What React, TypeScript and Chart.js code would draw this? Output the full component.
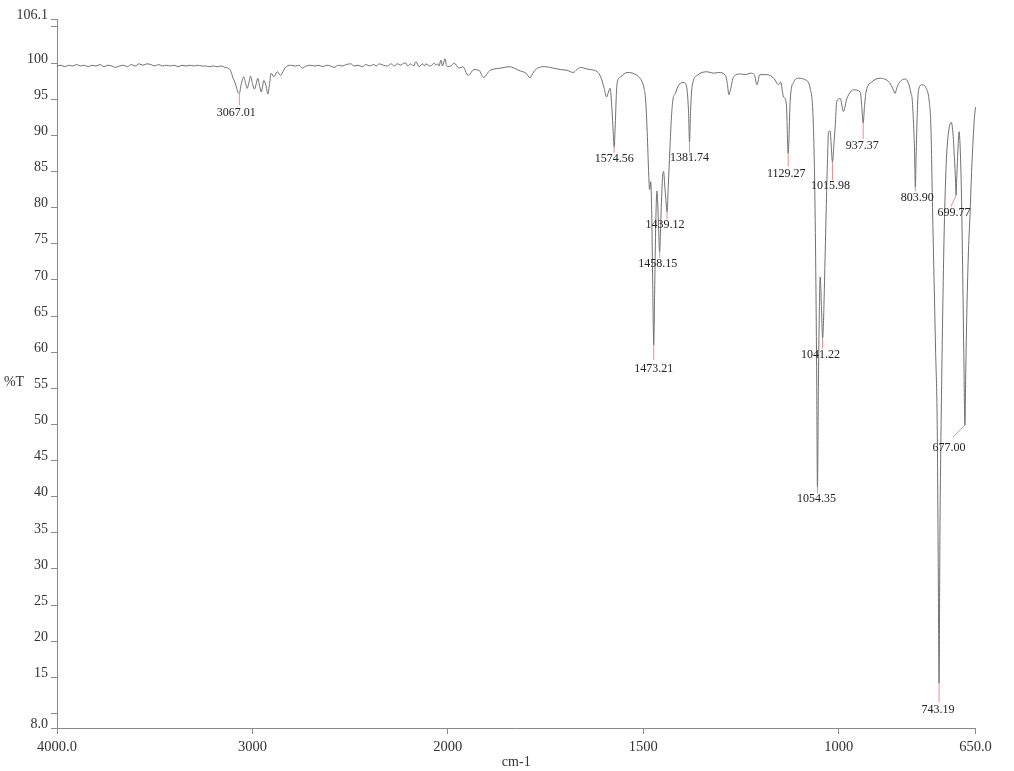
import React, { useEffect, useRef } from 'react';
import { Chart, LinearScale, registerables } from 'chart.js';

Chart.register(...registerables);

// ---------- data ----------
const WN: number[] = [
  4000, 3980, 3960, 3940, 3920, 3900, 3880, 3860, 3840, 3820, 3800, 3780, 3760, 3740, 3720, 3700,
  3680, 3660, 3640, 3620, 3600, 3580, 3560, 3540, 3520, 3500, 3480, 3460, 3440, 3420, 3400, 3380,
  3360, 3340, 3320, 3300, 3280, 3260, 3240, 3220, 3200, 3180, 3160, 3140, 3125, 3113, 3100, 3085,
  3075, 3067.01, 3058, 3044, 3035, 3027, 3018, 3010, 3000, 2990, 2980, 2973, 2963, 2955, 2948, 2942,
  2930, 2921, 2912, 2904, 2891, 2873, 2856, 2840, 2831, 2805, 2780, 2760, 2745, 2725, 2703, 2680,
  2660, 2640, 2620, 2600, 2583, 2560, 2540, 2520, 2497, 2480, 2460, 2437, 2420, 2400, 2380, 2365,
  2352, 2330, 2309, 2290, 2275, 2258, 2240, 2225, 2215, 2206, 2190, 2175, 2164, 2147, 2130, 2120,
  2113, 2100, 2087, 2070, 2060, 2053, 2045, 2036, 2027, 2020, 2015, 2008, 2001, 1992, 1984, 1971,
  1962, 1948, 1933, 1920, 1909, 1894, 1880, 1865, 1843, 1830, 1814, 1800, 1790, 1780, 1771, 1750,
  1730, 1711, 1695, 1679, 1670, 1660, 1645, 1635, 1618, 1609, 1600, 1594, 1589, 1585, 1580, 1577,
  1574.56, 1572, 1569, 1567, 1558, 1541, 1516, 1503, 1498, 1494, 1490, 1486, 1484, 1481, 1478, 1476,
  1473.21, 1471, 1468, 1465, 1463, 1461, 1458.15, 1455, 1451, 1448, 1445, 1442, 1439.12, 1436, 1432, 1428,
  1424, 1418, 1409, 1395, 1388, 1384, 1381.74, 1379, 1375, 1362, 1337, 1320, 1307, 1290, 1285, 1281,
  1277, 1269, 1252, 1239, 1226, 1216, 1209, 1202, 1183, 1166, 1154, 1149, 1141, 1134, 1129.27, 1124,
  1115, 1103, 1086, 1073, 1066, 1062, 1059, 1056.5, 1054.35, 1052, 1050, 1047.3, 1044, 1041.22, 1039, 1037,
  1034, 1032, 1029, 1026, 1022, 1019, 1015.98, 1012, 1009, 1005, 996, 988, 979, 962, 945, 941,
  937.37, 934, 930, 915, 894, 870, 860, 856, 851, 845, 830, 822, 815, 812, 808, 806,
  803.9, 802, 799, 796, 787, 776, 768, 764, 760, 756, 752, 748, 745.5, 743.19, 741, 738,
  734, 730, 725, 720, 712, 708, 704, 701, 699.77, 698, 695, 692, 689, 686, 683, 680,
  677, 675, 672, 668, 664, 660, 656, 653, 650,
];

const T: number[] = [
  99.6, 99.7, 99.5, 99.7, 99.6, 99.8, 99.6, 99.7, 99.5, 99.7, 99.6, 99.8, 99.5, 99.7, 99.6, 99.4,
  99.6, 99.7, 99.5, 99.8, 99.6, 99.9, 99.7, 99.9, 99.8, 99.6, 99.8, 99.6, 99.7, 99.6, 99.7, 99.5,
  99.7, 99.6, 99.7, 99.6, 99.7, 99.6, 99.6, 99.5, 99.6, 99.5, 99.6, 99.4, 99.3, 99.0, 98.0, 97.0,
  96.0, 95.8, 97.0, 98.1, 97.2, 96.5, 97.3, 98.2, 97.2, 96.4, 97.2, 97.9, 96.8, 96.0, 96.8, 97.6,
  96.8, 95.7, 97.2, 98.6, 98.1, 98.8, 98.3, 99.0, 99.4, 99.7, 99.6, 99.7, 99.3, 99.6, 99.7, 99.6,
  99.7, 99.5, 99.7, 99.6, 99.4, 99.7, 99.6, 99.8, 99.9, 99.6, 99.7, 99.5, 99.8, 99.6, 99.8, 99.6,
  99.9, 99.7, 99.6, 99.9, 99.6, 99.9, 99.7, 100.0, 100.0, 99.6, 99.9, 99.6, 100.2, 99.5, 99.9, 99.6,
  99.9, 99.7, 99.6, 100.0, 99.7, 99.9, 99.6, 100.4, 99.6, 100.2, 100.6, 99.8, 99.5, 99.6, 100.0, 99.3,
  99.5, 98.3, 99.1, 99.0, 98.0, 98.9, 99.2, 99.3, 99.5, 99.3, 98.9, 98.6, 98.0, 98.8, 99.3, 99.5,
  99.3, 99.1, 99.0, 98.7, 99.1, 99.4, 99.2, 99.1, 98.8, 98.1, 96.5, 95.3, 96.0, 96.5, 93.5, 90.5,
  88.4, 91.0, 95.5, 97.2, 98.1, 98.7, 98.3, 97.4, 96.5, 94.9, 90.5, 84.5, 82.5, 83.6, 78.0, 70.0,
  61.0, 68.0, 78.0, 82.3, 80.5, 77.5, 73.9, 78.5, 84.0, 85.0, 83.0, 81.0, 79.4, 83.0, 88.0, 92.5,
  95.0, 95.8, 97.0, 97.3, 96.3, 93.0, 89.1, 93.5, 96.8, 98.3, 98.8, 98.6, 98.7, 98.3, 97.2, 95.6,
  96.3, 98.1, 98.5, 98.4, 98.6, 98.4, 97.0, 98.4, 98.4, 97.9, 97.0, 97.4, 95.3, 94.4, 87.5, 94.9,
  97.4, 97.9, 97.7, 96.5, 93.0, 85.0, 73.0, 58.0, 41.3, 55.0, 64.0, 70.4, 66.0, 61.9, 64.0, 68.2,
  75.0, 79.7, 86.0, 90.5, 90.6, 88.5, 86.3, 89.0, 91.2, 94.7, 95.1, 93.3, 95.1, 96.3, 96.0, 94.0,
  91.7, 94.0, 96.0, 97.4, 97.9, 97.3, 96.3, 95.8, 96.6, 97.3, 97.8, 97.3, 95.8, 95.0, 91.0, 88.0,
  82.8, 87.0, 93.0, 96.2, 97.0, 96.5, 94.5, 91.0, 80.0, 70.0, 60.0, 50.0, 32.0, 14.2, 35.0, 50.0,
  65.0, 77.0, 86.0, 90.0, 91.8, 90.5, 87.0, 83.5, 81.7, 84.0, 88.0, 90.5, 88.0, 82.0, 72.0, 60.0,
  49.9, 57.0, 66.0, 74.0, 79.0, 85.0, 89.5, 92.3, 93.9,
];

const PEAK_WN: number[] = [
  3067.01, 1574.56, 1473.21, 1458.15, 1439.12, 1381.74, 1129.27, 1054.35,
  1041.22, 1015.98, 937.37, 803.9, 743.19, 699.77, 677,
];

const X_TICKS: number[] = [4000, 3000, 2000, 1500, 1000, 650];
const X_TICK_LABELS: string[] = ['4000.0', '3000', '2000', '1500', '1000', '650.0'];
const Y_TICKS: number[] = [8, 10, 15, 20, 25, 30, 35, 40, 45, 50, 55, 60, 65, 70, 75, 80, 85, 90, 95, 100, 105, 106.1];
const Y_TICK_LABELS: string[] = ['8.0', '', '15', '20', '25', '30', '35', '40', '45', '50', '55', '60', '65', '70', '75', '80', '85', '90', '95', '100', '', '106.1'];

// ---------- layout of peak annotations (text offset dx, dy; leader end dx, dy) ----------
const LABEL_LAYOUT: number[][] = [
  [-3, 19, 0, 12],
  [0, 12, 0, 6],
  [0, 24, 0, 15],
  [-2, 12.5, 0, 6],
  [-2, 13, 0, 7],
  [0, 16, 0, 11],
  [-2, 20, 0, 13],
  [-1, 12, 0, 6],
  [-2, 16, 0, 10],
  [-2, 24, 0, 18],
  [-1, 23, 0, 16],
  [2, 10, 0, 4],
  [-1, 27, 0, 19],
  [-2, 17, -5, 11],
  [-16, 23, -12, 12],
];

const SERIF = '"Liberation Serif", "Times New Roman", serif';

// ---------- wavenumber axis with the usual 2x expansion below 2000 cm-1 ----------
const X_MAX = 4000;
const X_MIN = 650;
const BREAK = 2000;
function toU(w: number): number {
  return w >= BREAK ? X_MAX - w : (X_MAX - BREAK) + 2 * (BREAK - w);
}
function fromU(u: number): number {
  return u <= X_MAX - BREAK ? X_MAX - u : BREAK - (u - (X_MAX - BREAK)) / 2;
}
const U_MAX = toU(X_MIN);

class WavenumberScale extends LinearScale {
  static id = 'wavenumber';
  static defaults = { ticks: { callback: (v: number) => String(v) } };
  determineDataLimits() {
    (this as any).min = X_MIN;
    (this as any).max = X_MAX;
  }
  buildTicks() {
    return X_TICKS.map((v) => ({ value: v }));
  }
  getPixelForValue(value: number) {
    return this.getPixelForDecimal(toU(value) / U_MAX);
  }
  getValueForPixel(pixel: number) {
    return fromU(this.getDecimalForPixel(pixel) * U_MAX);
  }
}
Chart.register(WavenumberScale as any);

const annotationPlugin = {
  id: 'peakAnnotations',
  afterDatasetsDraw(chart: any) {
    const { ctx, scales } = chart;
    const xs = scales.x;
    const ys = scales.y;
    ctx.save();
    PEAK_WN.forEach((w, k) => {
      const idx = WN.indexOf(w);
      const px = xs.getPixelForValue(w);
      const py = ys.getPixelForValue(T[idx]);
      const [ldx, ldy, ex, ey] = LABEL_LAYOUT[k];
      ctx.strokeStyle = '#f28b8b';
      ctx.lineWidth = 1;
      ctx.beginPath();
      ctx.moveTo(px, py);
      ctx.lineTo(px + ex, py + ey);
      ctx.stroke();
      ctx.fillStyle = '#222';
      ctx.font = `12px ${SERIF}`;
      ctx.textAlign = 'center';
      ctx.textBaseline = 'middle';
      ctx.fillText(w.toFixed(2), px + ldx, py + ldy);
    });
    ctx.fillStyle = '#333';
    ctx.font = `14px ${SERIF}`;
    ctx.textAlign = 'center';
    ctx.textBaseline = 'middle';
    ctx.fillText('%T', 14, 382);
    ctx.restore();
  },
};

export default function App() {
  const canvasRef = useRef<HTMLCanvasElement | null>(null);

  useEffect(() => {
    if (!canvasRef.current) return;
    const chart = new Chart(canvasRef.current, {
      type: 'line',
      data: {
        datasets: [
          {
            data: WN.map((w, i) => ({ x: w, y: T[i] })),
            borderColor: '#707070',
            borderWidth: 1,
            pointRadius: 0,
            fill: false,
            cubicInterpolationMode: 'monotone',
          },
        ],
      },
      options: {
        responsive: false,
        animation: false,
        devicePixelRatio: 1,
        layout: { padding: { top: 19, right: 38.5, left: 0, bottom: 0 } },
        plugins: { legend: { display: false }, tooltip: { enabled: false } },
        scales: {
          x: {
            type: 'wavenumber' as any,
            position: 'bottom',
            afterFit: (s: any) => { s.height = 43; },
            grid: { drawOnChartArea: false, drawTicks: true, tickLength: 6, color: '#8a8a8a' },
            border: { display: true, color: '#8a8a8a', width: 1 },
            ticks: {
              autoSkip: false,
              maxRotation: 0,
              padding: 4,
              color: '#333',
              font: { family: SERIF, size: 14.5 },
              callback: (_v: any, i: number) => X_TICK_LABELS[i],
            },
            title: {
              display: true,
              text: 'cm-1',
              color: '#333',
              font: { family: SERIF, size: 14 },
              padding: { top: 0, bottom: 0 },
            },
          } as any,
          y: {
            type: 'linear',
            min: 8,
            max: 106.1,
            afterFit: (s: any) => { s.width = 57; },
            afterBuildTicks: (s: any) => { s.ticks = Y_TICKS.map((v) => ({ value: v })); },
            grid: { drawOnChartArea: false, drawTicks: true, tickLength: 6, color: '#8a8a8a' },
            border: { display: true, color: '#8a8a8a', width: 1 },
            ticks: {
              autoSkip: false,
              padding: 3,
              labelOffset: -4,
              color: '#333',
              font: { family: SERIF, size: 14 },
              callback: (_v: any, i: number) => Y_TICK_LABELS[i],
            },
          },
        },
      },
      plugins: [annotationPlugin],
    });
    return () => chart.destroy();
  }, []);

  return (
    <div style={{ position: 'absolute', left: 0, top: 0, width: 1014, height: 771, background: '#fff' }}>
      <canvas ref={canvasRef} width={1014} height={771} style={{ display: 'block' }} />
    </div>
  );
}
